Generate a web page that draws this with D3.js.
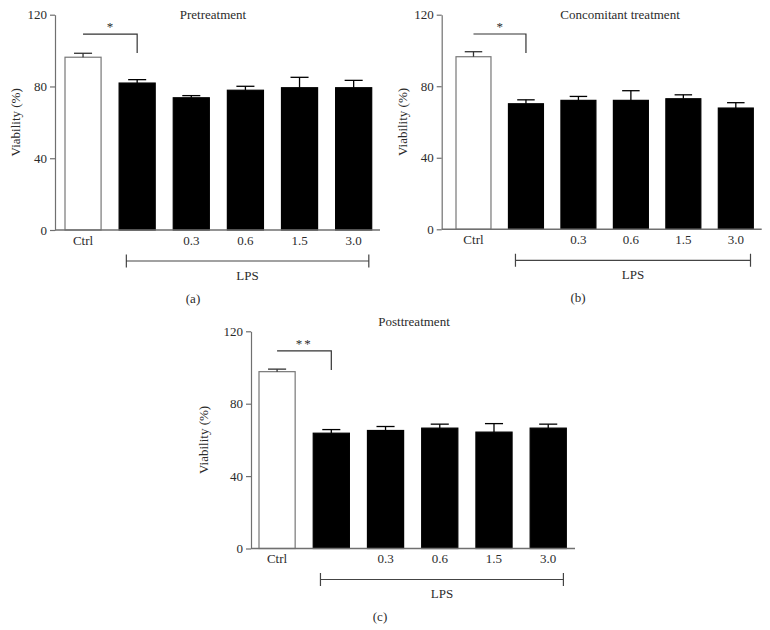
<!DOCTYPE html>
<html>
<head>
<meta charset="utf-8">
<script src="https://cdn.jsdelivr.net/npm/d3@7"></script>
<style>
  html, body { margin: 0; padding: 0; background: #fff; }
  svg { display: block; }
</style>
</head>
<body>
<svg id="chart" width="770" height="630"></svg>
<script>
// ---------- data ----------
const categories = ["Ctrl", "LPS", "0.3", "0.6", "1.5", "3.0"];
const tickLabels = ["Ctrl", "", "0.3", "0.6", "1.5", "3.0"];
const yTicks = [0, 40, 80, 120];

const preMean  = [96.3, 81.9, 73.7, 77.9, 79.3, 79.3];
const preErr   = [2.2, 1.9, 1.2, 2.2, 5.8, 4.1];

const conMean  = [96.5, 70.2, 72.1, 72.1, 73.0, 67.8];
const conErr   = [2.8, 2.2, 2.2, 5.4, 2.2, 3.0];

const postMean = [97.7, 63.7, 65.2, 66.5, 64.3, 66.5];
const postErr  = [1.4, 2.0, 2.2, 2.2, 4.7, 2.2];

const titles = ["Pretreatment", "Concomitant treatment", "Posttreatment"];
const panelLetters = ["(a)", "(b)", "(c)"];
const sigMarks = ["*", "*", "**"];
const groupLabel = "LPS";
const yLabel = "Viability (%)";

// ---------- layout ----------
const layouts = [
  { axisX: 55,    axisEnd: 380,   barStart: 65,  barEnd: 371.7, yTop: 14.7,  yBottom: 230,   titleX: 213, titleY: 14,    ylabX: 15,    letterX: 193 },
  { axisX: 441.7, axisEnd: 761.7, barStart: 456, barEnd: 753.3, yTop: 14.7,  yBottom: 229.3, titleX: 620, titleY: 14,    ylabX: 402,   letterX: 578 },
  { axisX: 251,   axisEnd: 575,   barStart: 259, barEnd: 566.3, yTop: 331.3, yBottom: 548.5, titleX: 414, titleY: 321.7, ylabX: 203.5, letterX: 380 }
];
const panelData = [
  { mean: preMean, err: preErr },
  { mean: conMean, err: conErr },
  { mean: postMean, err: postErr }
];

const FONT = '"Liberation Serif", "Times New Roman", Times, "DejaVu Serif", serif';
const TEXT_COLOR = "#2b2b2b";
const svg = d3.select("#chart");
const axisColor = "#707070";
const fontSize = 13;

function styleText(sel) {
  return sel.attr("font-family", FONT).style("font-family", FONT)
    .attr("font-size", fontSize).attr("fill", TEXT_COLOR);
}

panelData.forEach((pd, i) => {
  const L = layouts[i];
  const g = svg.append("g");

  const x = d3.scaleBand().domain(categories).range([L.barStart, L.barEnd])
    .paddingInner(1 / 3).paddingOuter(0);
  const y = d3.scaleLinear().domain([0, 120]).range([L.yBottom, L.yTop]);
  const bw = x.bandwidth();

  const rows = categories.map((c, k) => ({ cat: c, label: tickLabels[k], mean: pd.mean[k], err: pd.err[k], ctrl: k === 0 }));

  // y axis
  const yAxis = d3.axisLeft(y).tickValues(yTicks).tickSize(5).tickPadding(3).tickSizeOuter(0);
  const ya = g.append("g").attr("transform", `translate(${L.axisX},0)`).call(yAxis);
  ya.attr("font-family", FONT);
  ya.select(".domain").attr("stroke", axisColor).attr("stroke-width", 1.2);
  ya.selectAll(".tick line").attr("stroke", axisColor).attr("stroke-width", 1.2);
  styleText(ya.selectAll(".tick text"));

  // bars
  g.selectAll("rect.bar").data(rows).enter().append("rect")
    .attr("class", "bar")
    .attr("x", d => x(d.cat))
    .attr("y", d => y(d.mean))
    .attr("width", bw)
    .attr("height", d => y(0) - y(d.mean))
    .attr("fill", d => d.ctrl ? "#fff" : "#000")
    .attr("stroke", d => d.ctrl ? "#777" : "#000")
    .attr("stroke-width", 1.2);

  // error bars (upper only)
  const eb = g.selectAll("g.err").data(rows).enter().append("g").attr("class", "err");
  eb.append("line")
    .attr("x1", d => x(d.cat) + bw / 2).attr("x2", d => x(d.cat) + bw / 2)
    .attr("y1", d => y(d.mean)).attr("y2", d => y(d.mean + d.err))
    .attr("stroke", d => d.ctrl ? "#333" : "#000").attr("stroke-width", 1.3);
  eb.append("line")
    .attr("x1", d => x(d.cat) + bw / 4).attr("x2", d => x(d.cat) + bw * 3 / 4)
    .attr("y1", d => y(d.mean + d.err)).attr("y2", d => y(d.mean + d.err))
    .attr("stroke", d => d.ctrl ? "#333" : "#000").attr("stroke-width", 1.3);

  // x axis line
  g.append("line")
    .attr("x1", L.axisX).attr("x2", L.axisEnd)
    .attr("y1", y(0)).attr("y2", y(0))
    .attr("stroke", axisColor).attr("stroke-width", 1.4);

  // x tick labels
  styleText(g.selectAll("text.xl").data(rows).enter().append("text")
    .attr("class", "xl")
    .attr("x", d => x(d.cat) + bw / 2)
    .attr("y", y(0) + 14.5)
    .attr("text-anchor", "middle"))
    .text(d => d.label);

  // significance bracket
  const c0 = x(categories[0]) + bw / 2;
  const c1 = x(categories[1]) + bw / 2;
  g.append("path")
    .attr("d", `M${c0},${y(109.2)}H${c1}V${y(98.6)}`)
    .attr("fill", "none").attr("stroke", "#333").attr("stroke-width", 1.2);
  styleText(g.append("text")
    .attr("x", (c0 + c1) / 2).attr("y", y(109.2) - 3)
    .attr("text-anchor", "middle")
    .attr("letter-spacing", sigMarks[i].length > 1 ? 2 : 0))
    .text(sigMarks[i]);

  // LPS group bracket
  const lx1 = x(categories[1]) + bw * 0.2;
  const lx2 = x(categories[5]) + bw * 0.92;
  const ly = y(0) + 31;
  g.append("path")
    .attr("d", `M${lx1},${ly - 6.5}V${ly + 6.5}M${lx1},${ly}H${lx2}M${lx2},${ly - 6.5}V${ly + 6.5}`)
    .attr("fill", "none").attr("stroke", "#444").attr("stroke-width", 1.2);
  styleText(g.append("text")
    .attr("x", (lx1 + lx2) / 2).attr("y", ly + 18.5)
    .attr("text-anchor", "middle"))
    .text(groupLabel);

  // panel letter
  styleText(g.append("text")
    .attr("x", L.letterX).attr("y", y(0) + 72.5)
    .attr("text-anchor", "middle"))
    .text(panelLetters[i]);

  // title
  styleText(g.append("text")
    .attr("x", L.titleX).attr("y", L.titleY + 4.5)
    .attr("text-anchor", "middle"))
    .text(titles[i]);

  // y label
  styleText(g.append("text")
    .attr("transform", `translate(${L.ylabX + 4.5},${(L.yTop + L.yBottom) / 2}) rotate(-90)`)
    .attr("text-anchor", "middle"))
    .text(yLabel);
});
</script>
</body>
</html>
